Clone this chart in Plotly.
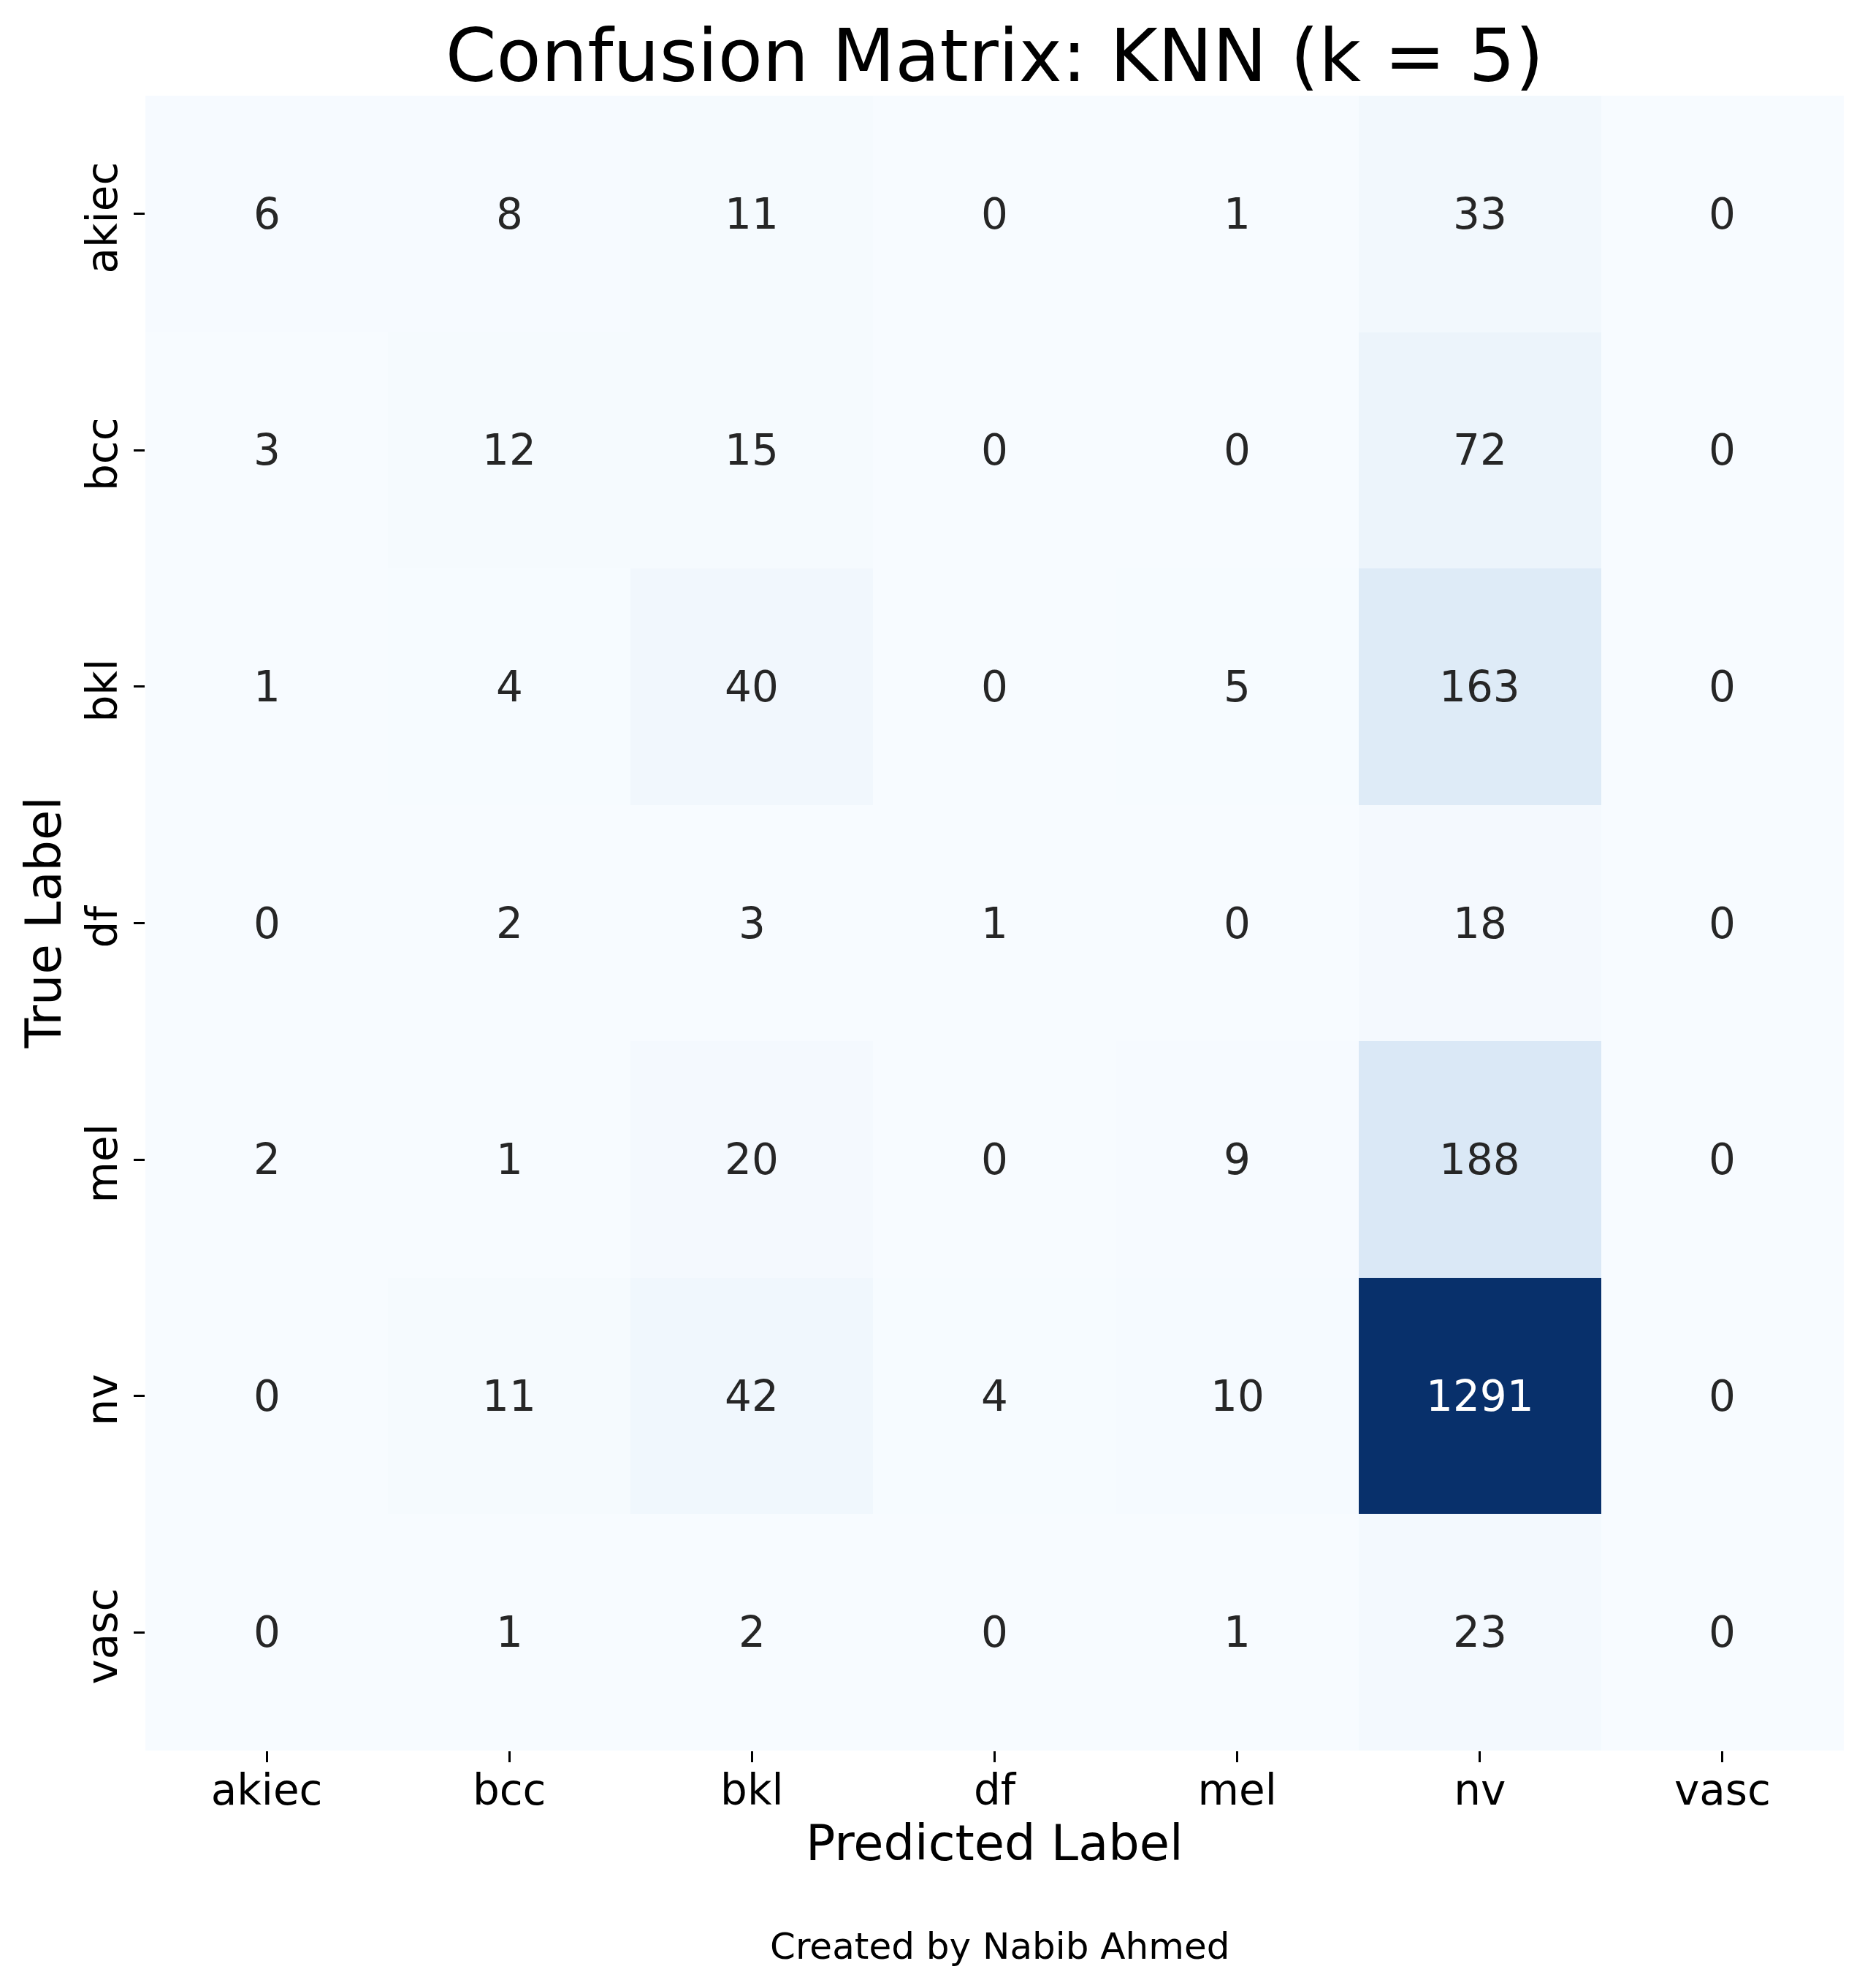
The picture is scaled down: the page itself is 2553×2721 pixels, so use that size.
import plotly.graph_objects as go

# class labels and the KNN (k = 5) confusion matrix counts
labels = ["akiec", "bcc", "bkl", "df", "mel", "nv", "vasc"]
counts = [
    [6, 8, 11, 0, 1, 33, 0],
    [3, 12, 15, 0, 0, 72, 0],
    [1, 4, 40, 0, 5, 163, 0],
    [0, 2, 3, 1, 0, 18, 0],
    [2, 1, 20, 0, 9, 188, 0],
    [0, 11, 42, 4, 10, 1291, 0],
    [0, 1, 2, 0, 1, 23, 0],
]
title = "Confusion Matrix: KNN (k = 5)"
credit = "Created by Nabib Ahmed"

FONT = "DejaVu Sans"
W, H = 2553, 2721
OFF = 8  # default body margin of the html page
zmax = max(max(r) for r in counts)

fig = go.Figure()
fig.add_trace(go.Heatmap(
    z=counts, x=labels, y=labels,
    colorscale="Blues", zmin=0, zmax=zmax,
    showscale=False, xgap=0, ygap=0,
    hovertemplate="true %{y}<br>pred %{x}<br>%{z}<extra></extra>",
))

# cell numbers, white on the dark cells like seaborn does
for i, row in enumerate(counts):
    for j, v in enumerate(row):
        fig.add_annotation(
            x=labels[j], y=labels[i], text=str(v), showarrow=False,
            font=dict(family=FONT, size=58,
                      color="white" if v / zmax > 0.45 else "#262626"),
        )

fig.add_annotation(text="Predicted Label", xref="paper", yref="paper",
                   x=0.5, y=0, yshift=-127, yanchor="middle", showarrow=False,
                   font=dict(family=FONT, size=67, color="black"))
fig.add_annotation(text="True Label", xref="paper", yref="paper",
                   x=0, y=0.5, xshift=-140, xanchor="center", textangle=-90,
                   showarrow=False, font=dict(family=FONT, size=67, color="black"))
fig.add_annotation(text=credit, xref="paper", yref="paper",
                   x=0.5028, y=0, yshift=-268, yanchor="middle", showarrow=False,
                   font=dict(family=FONT, size=50, color="black"))

fig.update_xaxes(ticks="outside", ticklen=15, tickwidth=3, tickcolor="black",
                 tickfont=dict(family=FONT, size=58, color="black"),
                 showgrid=False, zeroline=False, showline=False,
                 ticklabelstandoff=-12)
fig.update_yaxes(ticks="outside", ticklen=15, tickwidth=3, tickcolor="black",
                 tickfont=dict(family=FONT, size=58, color="black"),
                 tickangle=-90, autorange="reversed",
                 showgrid=False, zeroline=False, showline=False,
                 ticklabelstandoff=0, ticklabelshift=-14)

fig.update_layout(
    width=W, height=H,
    margin=dict(l=199 - OFF, r=29 + OFF, t=131 - OFF, b=325 + OFF),
    paper_bgcolor="white", plot_bgcolor="white",
    title=dict(text=title, x=0.5, xref="paper", y=1 - (75.5 - OFF) / H,
               yref="container", yanchor="middle", xanchor="center",
               font=dict(family=FONT, size=100, color="black")),
    font=dict(family=FONT),
)

fig.write_html("out.html")
